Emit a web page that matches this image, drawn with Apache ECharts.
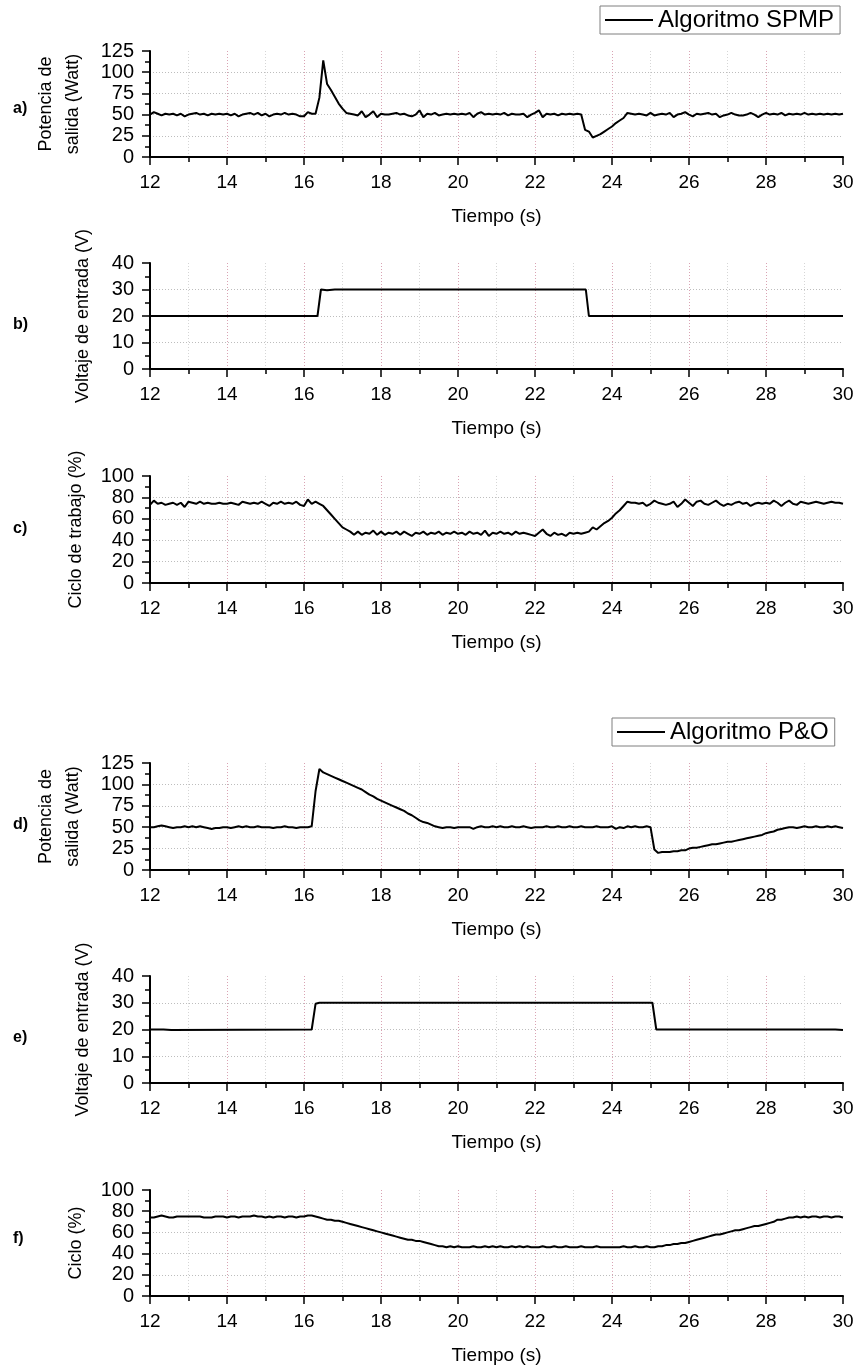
<!DOCTYPE html>
<html>
<head>
<meta charset="utf-8">
<title>Algoritmo SPMP vs P&amp;O</title>
<script src="https://cdn.jsdelivr.net/npm/echarts@6/dist/echarts.min.js"></script>
<style>
  html, body { margin: 0; padding: 0; background: #fff; }
  #chart { width: 858px; height: 1372px; }
</style>
</head>
<body>
<div id="chart"></div>
<script>
// Time axis shared by all panels (seconds)
const timeMin = 12;
const timeMax = 30;
const timeTicks = [12, 14, 16, 18, 20, 22, 24, 26, 28, 30];

// Sampled traces start at 12 s, one sample every 0.1 s
const sampleStart = 12;
const sampleStep = 0.1;

// a) Output power, SPMP algorithm (W)
const powerSPMP = [
  50, 53, 51, 49, 51, 50, 51, 49, 51, 48,
  50, 51, 52, 50, 51, 49, 51, 50, 51, 50,
  51, 49, 51, 48, 50, 51, 52, 50, 52, 49,
  51, 48, 50, 51, 50, 52, 50, 51, 50, 48,
  48, 53, 51, 51, 70, 114, 86, 79, 71, 63,
  57, 52, 51, 50, 49, 54, 47, 50, 54, 47,
  51, 50, 50, 51, 52, 50, 51, 49, 48, 50,
  55, 47, 51, 50, 52, 49, 50, 51, 50, 51,
  50, 51, 50, 52, 47, 51, 53, 50, 51, 50,
  51, 50, 52, 49, 51, 50, 50, 51, 47, 50,
  52, 55, 47, 51, 50, 51, 49, 51, 50, 51,
  50, 51, 50, 32, 30, 23, 25, 27, 30, 33,
  36, 40, 43, 46, 52, 51, 50, 51, 50, 49,
  52, 49, 50, 51, 50, 52, 47, 50, 51, 53,
  50, 48, 51, 50, 51, 52, 50, 51, 47, 49,
  50, 52, 50, 49, 49, 50, 52, 50, 47, 50,
  52, 50, 51, 50, 52, 49, 51, 50, 51, 50,
  52, 50, 51, 50, 51, 50, 51, 50, 51, 50,
  51
];

// b) Input voltage, SPMP run (V) at its change points
const voltTimeSPMP = [12, 16.35, 16.44, 16.6, 16.8, 23.32, 23.4, 30];
const voltSPMP     = [20, 20,    30,    29.7, 30,   30,    20,   20];

// c) Duty cycle, SPMP algorithm (%)
const dutySPMP = [
  73, 77, 74, 75, 73, 74, 75, 73, 75, 71,
  76, 75, 74, 76, 74, 75, 74, 74, 75, 74,
  74, 75, 74, 73, 76, 75, 74, 75, 74, 76,
  74, 72, 75, 74, 76, 74, 75, 74, 76, 73,
  72, 78, 74, 76, 74, 72, 68, 64, 60, 56,
  52, 50, 48, 45, 48, 45, 47, 46, 49, 45,
  48, 45, 47, 46, 48, 45, 48, 46, 44, 47,
  46, 48, 45, 47, 46, 48, 45, 47, 46, 48,
  46, 47, 45, 48, 46, 47, 45, 49, 44, 47,
  46, 48, 46, 47, 45, 48, 46, 47, 46, 45,
  44, 47, 50, 46, 44, 47, 45, 46, 44, 47,
  46, 47, 46, 47, 48, 52, 50, 53, 56, 58,
  61, 65, 68, 72, 76, 75, 75, 74, 75, 72,
  74, 77, 75, 74, 73, 74, 76, 71, 74, 78,
  75, 72, 76, 77, 74, 73, 75, 77, 74, 72,
  74, 73, 75, 76, 74, 75, 72, 74, 75, 74,
  75, 74, 77, 75, 72, 75, 77, 74, 73, 76,
  75, 74, 75, 76, 75, 74, 75, 76, 75, 75,
  74
];

// d) Output power, P&O algorithm (W)
const powerPO = [
  50, 50, 51, 52, 51, 50, 49, 50, 50, 51,
  50, 51, 50, 51, 50, 49, 48, 49, 49, 50,
  50, 49, 50, 51, 50, 51, 50, 50, 51, 50,
  50, 50, 49, 50, 50, 51, 50, 50, 49, 50,
  50, 50, 51, 92, 118, 114, 112, 110, 108, 106,
  104, 102, 100, 98, 96, 94, 91, 88, 86, 83,
  81, 79, 77, 75, 73, 71, 69, 66, 64, 61,
  58, 56, 55, 53, 51, 50, 49, 50, 50, 49,
  50, 50, 50, 50, 48, 50, 51, 50, 50, 51,
  50, 51, 50, 50, 51, 50, 50, 51, 50, 49,
  50, 50, 50, 51, 50, 50, 51, 50, 50, 51,
  50, 50, 51, 50, 50, 50, 51, 50, 50, 50,
  51, 48, 50, 49, 51, 50, 51, 50, 50, 51,
  50, 24, 20, 21, 21, 21, 22, 22, 23, 23,
  25, 26, 26, 27, 28, 29, 30, 30, 31, 32,
  33, 33, 34, 35, 36, 37, 38, 39, 40, 41,
  43, 44, 45, 47, 48, 49, 50, 50, 49, 50,
  51, 50, 50, 51, 50, 50, 51, 50, 51, 50,
  49
];

// e) Input voltage, P&O run (V) at its change points
const voltTimePO = [12, 12.35, 12.4, 12.55, 12.6, 16.2, 16.3, 16.4, 25.05, 25.15, 29.8, 29.85, 30];
const voltPO     = [20, 20,    19.8, 19.8,  20,   20,   29.6, 30,   30,    20,    20,   19.8,  19.8];

// f) Duty cycle, P&O algorithm (%)
const dutyPO = [
  74, 74, 75, 76, 75, 74, 74, 75, 75, 75,
  75, 75, 75, 75, 74, 74, 74, 75, 75, 75,
  74, 75, 75, 74, 75, 75, 75, 76, 75, 75,
  74, 75, 74, 75, 75, 74, 75, 75, 74, 75,
  75, 76, 76, 75, 74, 73, 72, 72, 71, 71,
  70, 69, 68, 67, 66, 65, 64, 63, 62, 61,
  60, 59, 58, 57, 56, 55, 54, 53, 53, 52,
  52, 51, 50, 49, 48, 47, 47, 46, 47, 46,
  47, 46, 46, 46, 47, 46, 46, 47, 46, 47,
  46, 47, 46, 46, 47, 46, 47, 46, 47, 46,
  46, 46, 47, 46, 46, 47, 46, 46, 47, 46,
  46, 46, 47, 46, 46, 46, 47, 46, 46, 46,
  46, 46, 46, 47, 46, 46, 47, 46, 46, 47,
  46, 46, 47, 47, 48, 48, 49, 49, 50, 50,
  51, 52, 53, 54, 55, 56, 57, 58, 58, 59,
  60, 61, 62, 62, 63, 64, 65, 66, 66, 67,
  68, 69, 70, 72, 72, 73, 74, 74, 75, 74,
  75, 74, 75, 75, 74, 75, 75, 74, 75, 75,
  74
];

// Axis titles, panel tags and legend entries
const xTitle = 'Tiempo (s)';
const yTitles = [
  'Potencia de\nsalida (Watt)',
  'Voltaje de entrada (V)',
  'Ciclo de trabajo (%)',
  'Potencia de\nsalida (Watt)',
  'Voltaje de entrada (V)',
  'Ciclo (%)'
];
const panelTags = ['a)', 'b)', 'c)', 'd)', 'e)', 'f)'];
const seriesNames = [
  'Algoritmo SPMP', 'Voltaje SPMP', 'Ciclo SPMP',
  'Algoritmo P&O', 'Voltaje P&O', 'Ciclo P&O'
];
const yRanges = [
  { max: 125, interval: 25 },
  { max: 40, interval: 10 },
  { max: 100, interval: 20 },
  { max: 125, interval: 25 },
  { max: 40, interval: 10 },
  { max: 100, interval: 20 }
];

// Layout of the six stacked plots
const FONT = '"Liberation Sans", Arial, Helvetica, sans-serif';
const gridTops = [51, 263, 476, 763, 976, 1190];
const gridHeights = [106, 106, 107, 107, 107, 106];
const tagCenters = [110, 326, 530, 826, 1039, 1240];

function sampled(values) {
  return values.map((v, i) => [Math.round((sampleStart + i * sampleStep) * 100) / 100, v]);
}
function paired(times, values) {
  return times.map((t, i) => [t, values[i]]);
}

const seriesData = [
  sampled(powerSPMP),
  paired(voltTimeSPMP, voltSPMP),
  sampled(dutySPMP),
  sampled(powerPO),
  paired(voltTimePO, voltPO),
  sampled(dutyPO)
];

const grids = [], xAxes = [], yAxes = [], series = [], graphics = [];

for (let k = 0; k < 6; k++) {
  const twoLine = yTitles[k].indexOf('\n') >= 0;
  grids.push({ left: 150, right: 15, top: gridTops[k], height: gridHeights[k] });

  xAxes.push({
    gridIndex: k,
    type: 'value',
    min: timeMin,
    max: timeMax,
    interval: 2,
    name: xTitle,
    nameLocation: 'middle',
    nameGap: 50,
    nameTextStyle: { fontFamily: FONT, fontSize: 19, color: '#000' },
    axisLine: { show: true, onZero: false, lineStyle: { color: '#000', width: 2 } },
    axisTick: { show: true, inside: false, length: 8, lineStyle: { color: '#000', width: 1.5 } },
    minorTick: { show: true, splitNumber: 2, length: 5, lineStyle: { color: '#000', width: 1.5 } },
    axisLabel: {
      fontFamily: FONT, fontSize: 19, color: '#000', margin: 16,
      formatter: v => (timeTicks.indexOf(v) >= 0 ? String(v) : '')
    },
    splitLine: {
      show: true, showMinLine: false, showMaxLine: false,
      lineStyle: { color: '#d9a3b3', width: 1, type: [1, 2] }
    },
    minorSplitLine: { show: true, lineStyle: { color: '#d6d6d6', width: 1, type: [1, 2] } }
  });

  yAxes.push({
    gridIndex: k,
    type: 'value',
    min: 0,
    max: yRanges[k].max,
    interval: yRanges[k].interval,
    name: yTitles[k],
    nameLocation: 'middle',
    nameRotate: 90,
    nameGap: twoLine ? 63 : 53,
    nameTextStyle: { fontFamily: FONT, fontSize: 18, color: '#000', lineHeight: 27, align: 'center' },
    axisLine: { show: true, onZero: false, lineStyle: { color: '#000', width: 2 } },
    axisTick: { show: true, inside: false, length: 8, lineStyle: { color: '#000', width: 1.5 } },
    minorTick: { show: true, splitNumber: 2, length: 5, lineStyle: { color: '#000', width: 1.5 } },
    axisLabel: { fontFamily: FONT, fontSize: 20, color: '#000', margin: 16 },
    splitLine: {
      show: true, showMinLine: false, showMaxLine: false,
      lineStyle: { color: '#bdbdbd', width: 1, type: [1, 2] }
    },
    minorSplitLine: { show: false }
  });

  series.push({
    name: seriesNames[k],
    type: 'line',
    xAxisIndex: k,
    yAxisIndex: k,
    data: seriesData[k],
    symbol: 'none',
    smooth: false,
    lineStyle: { color: '#000', width: 2 },
    itemStyle: { color: '#000' },
    animation: false
  });

  graphics.push({
    type: 'text',
    left: 13,
    top: tagCenters[k] - 9,
    style: {
      text: panelTags[k],
      fontFamily: FONT,
      fontSize: 16,
      fontWeight: 'bold',
      fill: '#000'
    }
  });
}

const legendBase = {
  orient: 'horizontal',
  icon: 'rect',
  itemWidth: 48,
  itemHeight: 2,
  borderColor: '#7f7f7f',
  borderWidth: 1,
  borderRadius: 0,
  backgroundColor: '#fff',
  padding: [1, 6, 1, 5],
  selectedMode: false,
  itemStyle: { color: '#000' },
  textStyle: { fontFamily: FONT, fontSize: 24, color: '#000', lineHeight: 26 }
};

const option = {
  backgroundColor: '#fff',
  animation: false,
  grid: grids,
  xAxis: xAxes,
  yAxis: yAxes,
  series: series,
  legend: [
    Object.assign({}, legendBase, { data: ['Algoritmo SPMP'], left: 600, top: 6 }),
    Object.assign({}, legendBase, { data: ['Algoritmo P&O'], left: 612, top: 718 })
  ],
  graphic: graphics
};

const chart = echarts.init(document.getElementById('chart'), null, { renderer: 'canvas' });
chart.setOption(option);
</script>
</body>
</html>
